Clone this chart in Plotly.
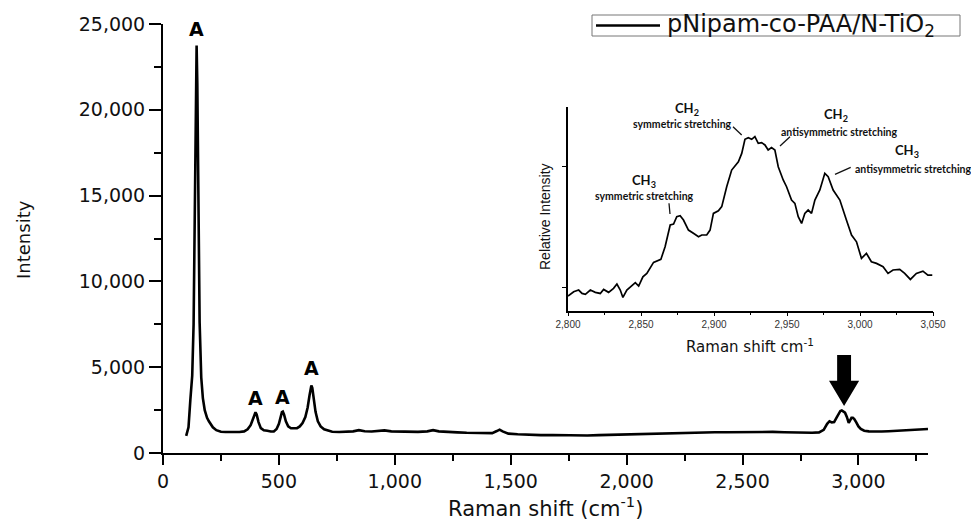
import plotly.graph_objects as go

# ---------------- data ----------------
# Full Raman spectrum (shift in cm-1, intensity in counts)
raman_shift = [100, 110, 118, 126, 132, 138, 142, 145, 148, 152, 158, 165, 172, 180, 190, 198,
               205, 215, 230, 250, 270, 290, 310, 330, 350, 365, 378, 388, 395, 399, 404, 412,
               422, 435, 450, 465, 478, 490, 500, 508, 513, 517, 522, 530, 540, 552, 565, 578,
               590, 602, 614, 624, 632, 637, 640, 644, 650, 658, 668, 680, 695, 712, 730, 760,
               790, 820, 845, 870, 900, 930, 955, 985, 1020, 1060, 1100, 1140, 1165, 1190, 1230,
               1270, 1310, 1350, 1390, 1420, 1440, 1452, 1465, 1490, 1530, 1580, 1630, 1680,
               1730, 1780, 1830, 1880, 1930, 1980, 2030, 2080, 2130, 2180, 2230, 2280, 2330,
               2380, 2430, 2480, 2530, 2580, 2630, 2680, 2730, 2770, 2800, 2830, 2850, 2865,
               2875, 2885, 2895, 2905, 2915, 2922, 2928, 2935, 2942, 2950, 2958, 2964, 2970,
               2976, 2982, 2990, 3000, 3010, 3025, 3045, 3070, 3100, 3130, 3160, 3190, 3220,
               3250, 3280, 3300]
intensity = [1000, 1500, 3100, 4500, 7500, 14300, 21500, 23750, 21500, 14300, 7600, 4400, 3200,
             2500, 2050, 1850, 1700, 1500, 1330, 1240, 1220, 1210, 1200, 1220, 1260, 1380, 1620,
             2000, 2300, 2370, 2250, 1800, 1450, 1320, 1300, 1250, 1260, 1400, 1700, 2150, 2380,
             2410, 2250, 1850, 1550, 1440, 1430, 1450, 1550, 1750, 2100, 2650, 3350, 3800, 3930,
             3800, 3200, 2400, 1850, 1550, 1380, 1290, 1240, 1220, 1250, 1260, 1330, 1270, 1250,
             1280, 1320, 1260, 1240, 1250, 1230, 1260, 1330, 1260, 1210, 1200, 1180, 1170, 1150,
             1160, 1280, 1360, 1260, 1130, 1090, 1060, 1040, 1050, 1030, 1010, 1020, 1040, 1060,
             1080, 1100, 1130, 1150, 1160, 1180, 1190, 1200, 1210, 1210, 1220, 1230, 1240, 1230,
             1210, 1190, 1200, 1180, 1200, 1350, 1700, 1850, 1780, 1800, 2050, 2250, 2450, 2480,
             2420, 2350, 2100, 1750, 1900, 2050, 2050, 1980, 1800, 1550, 1400, 1300, 1260, 1240,
             1250, 1270, 1290, 1310, 1330, 1350, 1380, 1400]

# C-H stretching region (relative intensity)
ch_shift = [2800.0, 2803.9, 2807.3, 2809.6, 2811.9, 2815.3, 2818.7, 2822.1, 2824.4, 2827.8,
            2831.2, 2833.5, 2835.8, 2837.6, 2840.3, 2843.8, 2846.1, 2848.4, 2851.3, 2854.0,
            2858.6, 2863.6, 2866.5, 2870.0, 2872.3, 2874.5, 2876.8, 2879.1, 2882.5, 2885.9,
            2889.4, 2891.6, 2895.0, 2897.3, 2899.6, 2903.0, 2905.3, 2908.7, 2912.1, 2916.7,
            2919.0, 2921.2, 2923.5, 2925.8, 2928.0, 2930.3, 2932.6, 2934.9, 2937.1, 2939.4,
            2941.7, 2944.0, 2947.4, 2949.7, 2953.1, 2955.4, 2957.7, 2960.0, 2962.2, 2964.5,
            2966.8, 2969.1, 2972.5, 2975.9, 2978.2, 2981.6, 2986.2, 2990.7, 2994.2, 2997.6,
            3001.0, 3004.4, 3007.8, 3011.3, 3015.8, 3019.2, 3022.6, 3027.2, 3030.6, 3034.5,
            3038.6, 3043.1, 3046.5, 3049.5]
ch_rel = [-0.072, -0.036, -0.022, -0.050, -0.058, -0.022, -0.041, -0.050, -0.017, -0.041,
          -0.008, 0.028, -0.022, -0.083, -0.022, 0.019, 0.039, 0.011, 0.088, 0.116,
          0.207, 0.232, 0.337, 0.517, 0.525, 0.586, 0.594, 0.558, 0.475, 0.448,
          0.420, 0.434, 0.434, 0.475, 0.613, 0.635, 0.669, 0.834, 0.972, 1.041,
          1.110, 1.227, 1.240, 1.227, 1.249, 1.193, 1.199, 1.180, 1.138, 1.158,
          1.138, 1.000, 0.890, 0.834, 0.724, 0.696, 0.586, 0.530, 0.613, 0.641,
          0.613, 0.724, 0.807, 0.945, 0.917, 0.807, 0.724, 0.558, 0.434, 0.378,
          0.240, 0.282, 0.213, 0.199, 0.171, 0.116, 0.144, 0.149, 0.116, 0.066,
          0.116, 0.135, 0.102, 0.102]

peak_label_x = [145, 399, 516, 640]
peak_label_y = [24690, 3190, 3280, 4970]
peak_label_text = ["A", "A", "A", "A"]

series_name = "pNipam-co-PAA/N-TiO<sub>2</sub>"

# ---------------- layout helpers ----------------
W, H = 971, 523
ML, MR, MT, MB = 163, 30, 24, 70
PW, PH = W - ML - MR, H - MT - MB


def fx(px):
    return (px - ML) / PW


def fy(py):
    return (H - MB - py) / PH


MAIN_FONT = "DejaVu Sans"
INSET_FONT = "Liberation Sans"
LABEL_FONT = "Lato"

fig = go.Figure()

fig.add_trace(go.Scatter(
    x=raman_shift, y=intensity, mode="lines",
    line=dict(color="black", width=2.6),
    name=series_name, xaxis="x", yaxis="y", showlegend=False,
))

fig.add_trace(go.Scatter(
    x=ch_shift, y=ch_rel, mode="lines",
    line=dict(color="black", width=1.7),
    name="C-H region", xaxis="x2", yaxis="y2", showlegend=False,
))

# compact framed legend drawn in the top-right corner
fig.add_shape(type="rect", xref="paper", yref="paper",
              x0=fx(592), x1=fx(960), y0=fy(36), y1=fy(15),
              line=dict(color="#777", width=1), fillcolor="white")
fig.add_shape(type="line", xref="paper", yref="paper",
              x0=fx(596), x1=fx(660), y0=fy(25.5), y1=fy(25.5),
              line=dict(color="black", width=2.6))
fig.add_annotation(x=fx(665), y=fy(25), xref="paper", yref="paper", text=series_name,
                   showarrow=False, xanchor="left", yanchor="middle",
                   font=dict(family=MAIN_FONT, size=24, color="#111"))

# peak markers "A" (anatase)
for xv, yv, t in zip(peak_label_x, peak_label_y, peak_label_text):
    fig.add_annotation(x=xv, y=yv, xref="x", yref="y", text=t, showarrow=False,
                       font=dict(family=MAIN_FONT, size=19, color="black", weight="bold"),
                       xanchor="center", yanchor="middle")

# arrow pointing at the C-H band
ARROW_X, ARROW_TIP, ARROW_NECK, ARROW_TOP = 2938, 2740, 4210, 5710
SHAFT_HALF, HEAD_HALF = 30, 65
arrow_path = (f"M {ARROW_X - SHAFT_HALF},{ARROW_TOP} L {ARROW_X + SHAFT_HALF},{ARROW_TOP} "
              f"L {ARROW_X + SHAFT_HALF},{ARROW_NECK} L {ARROW_X + HEAD_HALF},{ARROW_NECK} "
              f"L {ARROW_X},{ARROW_TIP} L {ARROW_X - HEAD_HALF},{ARROW_NECK} "
              f"L {ARROW_X - SHAFT_HALF},{ARROW_NECK} Z")
fig.add_shape(type="path", path=arrow_path, xref="x", yref="y",
              fillcolor="black", line=dict(color="black", width=0))

# axis titles (main)
fig.add_annotation(x=fx(545), y=fy(507), xref="paper", yref="paper",
                   text="Raman shift (cm<sup>-1</sup>)", showarrow=False,
                   font=dict(family=MAIN_FONT, size=21, color="#111"),
                   xanchor="center", yanchor="middle")
fig.add_annotation(x=fx(23), y=fy(240), xref="paper", yref="paper",
                   text="Intensity", showarrow=False, textangle=-90,
                   font=dict(family=MAIN_FONT, size=18, color="#111"),
                   xanchor="center", yanchor="middle")

# inset axis titles
fig.add_annotation(x=fx(750), y=fy(346), xref="paper", yref="paper",
                   text="Raman shift cm<sup>-1</sup>", showarrow=False,
                   font=dict(family=MAIN_FONT, size=15, color="#111"),
                   xanchor="center", yanchor="middle")
fig.add_annotation(x=fx(545), y=fy(217), xref="paper", yref="paper",
                   text="Relative Intensity", showarrow=False, textangle=-90,
                   font=dict(family=INSET_FONT, size=14, color="#111"),
                   xanchor="center", yanchor="middle")

# band assignments in the inset
band_labels = [
    (686.7, 108.5, "CH<sub>2</sub>", 13),
    (682.7, 124.0, "symmetric stretching", 10.5),
    (836.0, 115.0, "CH<sub>2</sub>", 13),
    (839.3, 131.5, "antisymmetric stretching", 10.5),
    (907.3, 151.0, "CH<sub>3</sub>", 13),
    (913.0, 169.0, "antisymmetric stretching", 10.5),
    (644.0, 181.0, "CH<sub>3</sub>", 13),
    (644.0, 196.0, "symmetric stretching", 10.5),
]
for px_, py_, t, s in band_labels:
    fig.add_annotation(x=fx(px_), y=fy(py_), xref="paper", yref="paper", text=t,
                       showarrow=False, xanchor="center", yanchor="middle",
                       font=dict(family=LABEL_FONT, size=s, color="#111", weight="bold"))

leaders = [
    (733.0, 126.7, 741.7, 135.0),
    (790.0, 136.7, 780.0, 146.0),
    (850.7, 167.3, 835.0, 174.3),
    (669.0, 203.3, 670.0, 214.0),
]
for x0, y0, x1, y1 in leaders:
    fig.add_shape(type="line", xref="paper", yref="paper",
                  x0=fx(x0), y0=fy(y0), x1=fx(x1), y1=fy(y1),
                  line=dict(color="#111", width=1.3))

axis_common = dict(showgrid=False, zeroline=False, showline=True, linecolor="black",
                   ticks="outside", tickcolor="black")

fig.update_layout(
    width=W, height=H,
    margin=dict(l=ML, r=MR, t=MT, b=MB),
    paper_bgcolor="white", plot_bgcolor="white",
    font=dict(family=MAIN_FONT, color="#111"),
    showlegend=False,
    xaxis=dict(**axis_common, domain=[0, fx(928)], range=[0, 3300],
               tickvals=[0, 500, 1000, 1500, 2000, 2500, 3000], tickformat=",",
               linewidth=2, tickwidth=2, ticklen=10,
               minor=dict(dtick=250, ticklen=6, tickwidth=2, ticks="outside", tickcolor="black"),
               tickfont=dict(family=MAIN_FONT, size=19, color="#111"), anchor="y"),
    yaxis=dict(**axis_common, domain=[0, 1], range=[0, 25000], dtick=5000, tickformat=",",
               linewidth=2, tickwidth=2, ticklen=12,
               minor=dict(dtick=2500, ticklen=7, tickwidth=2, ticks="outside", tickcolor="black"),
               tickfont=dict(family=MAIN_FONT, size=19, color="#111"), anchor="x"),
    xaxis2=dict(**axis_common, domain=[fx(568), fx(933)], range=[2800, 3050], dtick=50,
                tickformat=",", linewidth=1.5, tickwidth=1.2, ticklen=4,
                minor=dict(dtick=25, ticklen=3, tickwidth=1, ticks="outside", tickcolor="black"),
                tickfont=dict(family=INSET_FONT, size=10, color="#333"), anchor="y2"),
    yaxis2=dict(**axis_common, domain=[fy(310.7), fy(106.7)], range=[-0.193, 1.497],
                tickvals=[0, 1], showticklabels=False, linewidth=1.5, tickwidth=1.2, ticklen=4,
                anchor="x2"),
)

fig.write_html("out.html")
